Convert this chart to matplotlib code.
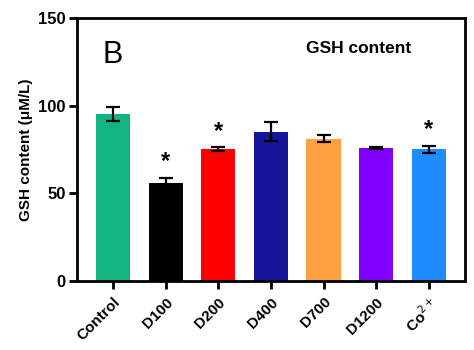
import matplotlib
matplotlib.use("Agg")
import matplotlib.pyplot as plt

groups = ["Control", "D100", "D200", "D400", "D700", "D1200", "Co$^{2+}$"]
gsh = [95.3, 55.7, 75.3, 85.2, 81.2, 76.0, 75.0]
err = [4.0, 3.2, 1.1, 5.2, 2.0, 0.6, 2.2]
signif = [False, True, True, False, False, False, True]
colors = ["#14b482", "#000000", "#ff0000", "#16169a", "#ffa040", "#8000ff", "#1e8cff"]

plt.rcParams['font.family'] = ['Liberation Sans', 'DejaVu Sans']

fig = plt.figure(figsize=(4.74, 3.5), dpi=100)
ax = fig.add_axes([0.1624, 0.197, 0.8186, 0.752])

x = range(len(groups))
ax.bar(x, gsh, width=0.65, color=colors, zorder=2)
ax.errorbar(x, gsh, yerr=err, fmt='none', ecolor='black', elinewidth=1.6,
            capsize=5, capthick=1.6, zorder=3)

for i, s in enumerate(signif):
    if s:
        ax.text(i, gsh[i] + err[i] + 2.5, "*", ha='center', va='bottom',
                fontsize=17, fontweight='bold')

ax.set_xlim(-0.69, len(groups) - 1 + 0.69)
ax.set_ylim(0, 150)
ax.set_yticks([0, 50, 100, 150])
ax.set_xticks(list(x))
ax.set_xticklabels(groups, rotation=45, ha='right', rotation_mode='anchor',
                   fontweight='bold', fontsize=11)
for lab in ax.get_yticklabels():
    lab.set_fontweight('bold')
    lab.set_fontsize(12)

for sp in ax.spines.values():
    sp.set_linewidth(2)
ax.tick_params(axis='both', width=2, length=6, pad=2)
ax.tick_params(axis='x', pad=4)

ax.set_ylabel("GSH content (\u03bcM/L)", fontweight='bold', fontsize=11)
ax.text(0.065, 0.83, "B", transform=ax.transAxes, fontsize=22)
ax.text(0.59, 0.865, "GSH content", transform=ax.transAxes, fontsize=12.5,
        fontweight='bold')

fig.savefig("out.png", dpi=100)
